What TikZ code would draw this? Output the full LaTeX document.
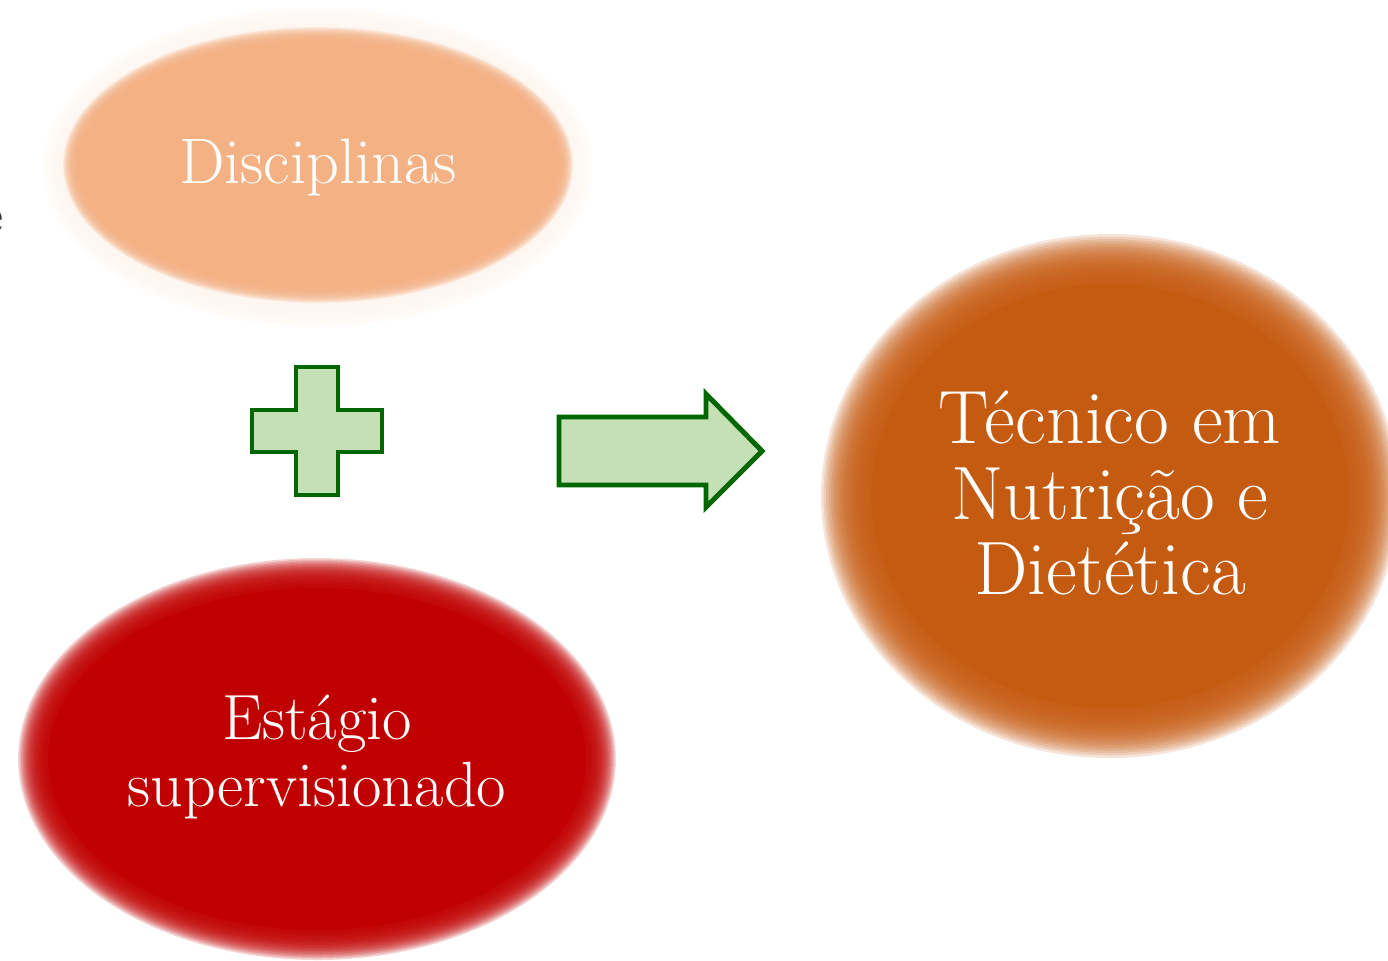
\documentclass[tikz,border=0pt]{standalone}
\usepackage{tikz}
\definecolor{discorange}{RGB}{244,177,131}
\definecolor{stagered}{RGB}{192,0,0}
\definecolor{techorange}{RGB}{197,90,17}
\definecolor{plusfill}{RGB}{197,224,180}
\definecolor{plusline}{RGB}{0,102,0}
% soft edged ellipse: name, centre, x radius, y radius, colour, blur width
\newcommand{\SoftBlob}[6]{
  \coordinate (#1) at (#2);
  \foreach \k in {20,19,...,1}{
    \fill[#5, opacity=0.16] (#1) ellipse [x radius={#3+(\k-10)*#6/20}, y radius={#4+(\k-10)*#6/20}];
  }
  \fill[#5] (#1) ellipse [x radius={#3-#6/2}, y radius={#4-#6/2}];
}
\tikzset{
  blobtext/.style={text=white, align=center, inner sep=0pt},
  signshape/.style={fill=plusfill, draw=plusline, line width=1.4pt, line join=miter}
}

\begin{document}
\begin{tikzpicture}[x=0.01cm, y=-0.01cm]
  \useasboundingbox (0,0) rectangle (1388,960);
  % pale halo round the first ellipse
  \SoftBlob{halo}{318,167}{262}{147}{discorange!12}{26}
  \SoftBlob{disc}{318,165}{246}{129}{discorange}{18}
  \node[blobtext, anchor=base, font=\fontsize{18.3}{20}\selectfont] (discText) at (318,183) {Disciplinas};

  \SoftBlob{stage}{317,759}{284}{186}{stagered}{30}
  \node[blobtext, font=\fontsize{18.2}{19.2}\selectfont] (stageText) at (317,757) {Est\'agio\\supervisionado};

  \SoftBlob{tech}{1110,496}{264}{237}{techorange}{50}
  \node[blobtext, font=\fontsize{21.5}{21.5}\selectfont] (techText) at (1110,493) {T\'ecnico em\\Nutri\c{c}\~ao e\\Dietética};

  % plus sign
  \draw[signshape] (252,410) -- (296,410) -- (296,367) -- (338,367) -- (338,410) -- (382,410)
    -- (382,452) -- (338,452) -- (338,495) -- (296,495) -- (296,452) -- (252,452) -- cycle;
  % block arrow
  \draw[signshape] (559,417) -- (706,417) -- (706,394) -- (762,451) -- (706,507) -- (706,485)
    -- (559,485) -- cycle;

  % cut off letter at the left edge
  \node[anchor=base east, inner sep=0pt, font=\fontsize{16}{18}\selectfont, text=black!80] (cut) at (4,233) {e};
\end{tikzpicture}
\end{document}
